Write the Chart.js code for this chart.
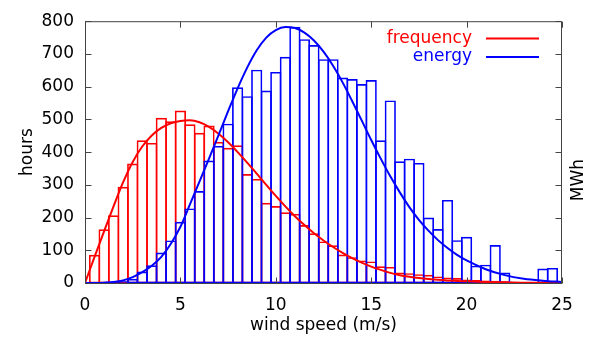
<!DOCTYPE html>
<html>
<head>
<meta charset="utf-8">
<script src="https://cdn.jsdelivr.net/npm/chart.js@4.4.1/dist/chart.umd.min.js"></script>
<style>
  html, body { margin: 0; padding: 0; background: #fff; }
  #wrap { width: 600px; height: 340px; }
</style>
</head>
<body>
<div id="wrap"><canvas id="windChart"></canvas></div>
<script>
// histogram bins (m/s, bin centres) and the two histograms
const binSpeeds = [0.5, 1, 1.5, 2, 2.5, 3, 3.5, 4, 4.5, 5, 5.5, 6, 6.5, 7, 7.5, 8, 8.5, 9, 9.5, 10,
  10.5, 11, 11.5, 12, 12.5, 13, 13.5, 14, 14.5, 15, 15.5, 16, 16.5, 17, 17.5, 18, 18.5, 19, 19.5, 20,
  20.5, 21, 21.5, 22, 22.5, 23, 23.5, 24, 24.5];
const hoursPerBin = [85, 163, 206, 293, 364, 435, 427, 504, 493, 526, 484, 458, 480, 430, 412, 420, 332, 317, 244, 234,
  215, 210, 176, 151, 126, 114, 86, 78, 68, 65, 50, 48, 31, 29, 26, 24, 19, 16, 14, 10,
  8, 7, 6, 4, 3, 2, 1, 1, 1];
const energyPerBin = [0, 0, 1, 5, 12, 34, 53, 92, 129, 186, 227, 280, 373, 418, 486, 597, 570, 651, 587, 644,
  690, 782, 744, 726, 683, 683, 627, 622, 607, 619, 435, 557, 371, 379, 366, 199, 164, 253, 130, 140,
  52, 55, 115, 31, 3, 0, 0, 43, 45];

// fitted curves
const fitSpeeds = [0, 0.5, 1, 1.5, 2, 2.5, 3, 3.5, 4, 4.5, 5, 5.5, 6, 6.5, 7, 7.5, 8, 8.5, 9, 9.5, 10,
  10.5, 11, 11.5, 12, 12.5, 13, 13.5, 14, 14.5, 15, 15.5, 16, 16.5, 17, 17.5, 18, 18.5, 19, 19.5, 20,
  21, 22, 23, 24, 25];
const frequencyFit = [0, 80, 158, 235, 308, 370, 417, 451, 474, 488, 495, 497, 491, 477, 456, 430, 400, 368, 334, 300, 266,
  234, 204, 177, 152, 130, 110, 92, 76, 62, 50, 40, 31, 24, 19, 15, 12, 10, 8, 6, 5,
  3, 2, 1, 1, 0];
const energyFit = [0, 0, 1, 3, 8, 18, 33, 53, 80, 120, 172, 240, 310, 380, 452, 525, 595, 658, 711, 750, 773,
  782, 779, 765, 741, 707, 664, 613, 556, 497, 437, 380, 326, 277, 232, 193, 160, 131, 107, 86, 69,
  42, 24, 13, 7, 3];

const xTicks = [0, 5, 10, 15, 20, 25];
const yTicks = [0, 100, 200, 300, 400, 500, 600, 700, 800];

const FONT = "'DejaVu Sans', sans-serif";
const RED = '#ff0000';
const BLUE = '#0000ff';

const toPoints = (xs, ys) => xs.map((x, i) => ({ x: x, y: ys[i] }));

// plot box is 85..562 wide, so one 0.5 m/s bin is 9.54px; +1 so neighbour borders overlap
const binPx = (600 - 85 - 38) / 25 * 0.5 + 1;

const gnuplotFrame = {
  id: 'gnuplotFrame',
  afterDatasetsDraw(chart) {
    const { ctx, chartArea: a, scales } = chart;
    const l = a.left + 0.5, r = a.right - 0.5, t = a.top + 0.5, b = a.bottom + 0.5;
    ctx.save();
    ctx.strokeStyle = '#444';
    ctx.lineWidth = 1;
    ctx.beginPath();
    xTicks.forEach(v => {
      const px = Math.round(scales.x.getPixelForValue(v)) + 0.5;
      ctx.moveTo(px, b); ctx.lineTo(px, b - 6);
      ctx.moveTo(px, t); ctx.lineTo(px, t + 6);
    });
    yTicks.forEach(v => {
      const py = Math.round(scales.y.getPixelForValue(v)) + 0.5;
      ctx.moveTo(l, py); ctx.lineTo(l + 6, py);
      ctx.moveTo(r, py); ctx.lineTo(r - 6, py);
    });
    ctx.stroke();
    ctx.strokeRect(l, t, r - l, b - t);
    ctx.restore();
  },
  afterDraw(chart) {
    const { ctx } = chart;
    ctx.save();
    ctx.font = '17px ' + FONT;
    // legend
    ctx.textAlign = 'right';
    ctx.textBaseline = 'middle';
    ctx.lineWidth = 2;
    [['frequency', RED, 38.5], ['energy', BLUE, 57]].forEach(([txt, col, y]) => {
      ctx.fillStyle = col;
      ctx.fillText(txt, 472, y);
      ctx.strokeStyle = col;
      ctx.beginPath();
      ctx.moveTo(486, y); ctx.lineTo(539, y);
      ctx.stroke();
    });
    // right axis label
    ctx.fillStyle = '#000';
    ctx.textAlign = 'center';
    ctx.translate(579, 180);
    ctx.rotate(-Math.PI / 2);
    ctx.fillText('MWh', 0, 0);
    ctx.restore();
  }
};

new Chart(document.getElementById('windChart'), {
  type: 'bar',
  data: {
    datasets: [
      {
        type: 'line',
        label: 'energy',
        data: toPoints(fitSpeeds, energyFit),
        yAxisID: 'y2',
        borderColor: BLUE,
        borderWidth: 2,
        pointRadius: 0,
        cubicInterpolationMode: 'monotone',
        order: 1
      },
      {
        type: 'line',
        label: 'frequency',
        data: toPoints(fitSpeeds, frequencyFit),
        borderColor: RED,
        borderWidth: 2,
        pointRadius: 0,
        cubicInterpolationMode: 'monotone',
        order: 2
      },
      {
        label: 'energy bins',
        data: toPoints(binSpeeds, energyPerBin),
        yAxisID: 'y2',
        backgroundColor: 'rgba(0,0,0,0)',
        borderColor: BLUE,
        borderWidth: 1,
        borderSkipped: false,
        barThickness: binPx,
        grouped: false,
        order: 3
      },
      {
        label: 'frequency bins',
        data: toPoints(binSpeeds, hoursPerBin),
        backgroundColor: 'rgba(0,0,0,0)',
        borderColor: RED,
        borderWidth: 1,
        borderSkipped: false,
        barThickness: binPx,
        grouped: false,
        order: 4
      }
    ]
  },
  options: {
    responsive: true,
    maintainAspectRatio: false,
    devicePixelRatio: 1,
    animation: false,
    layout: { padding: { top: 20, left: 0, right: 0, bottom: 0 } },
    plugins: {
      legend: { display: false },
      tooltip: { enabled: false }
    },
    scales: {
      x: {
        type: 'linear',
        min: 0,
        max: 25,
        offset: false,
        grid: { display: false, drawTicks: false },
        border: { display: false },
        ticks: { stepSize: 5, padding: 12, color: '#000', font: { family: FONT, size: 17 } },
        title: { display: true, text: 'wind speed (m/s)', color: '#000', padding: 4, font: { family: FONT, size: 17 } },
        afterFit: s => { s.height = 57; }
      },
      y: {
        min: 0,
        max: 800,
        grid: { display: false, drawTicks: false },
        border: { display: false },
        ticks: { stepSize: 100, padding: 11, color: '#000', font: { family: FONT, size: 17 } },
        title: { display: true, text: 'hours', color: '#000', padding: 17, font: { family: FONT, size: 17 } },
        afterFit: s => { s.width = 85; }
      },
      y2: {
        position: 'right',
        min: 0,
        max: 800,
        grid: { display: false, drawTicks: false },
        border: { display: false },
        ticks: { display: false, stepSize: 100 },
        afterFit: s => { s.width = 38; }
      }
    }
  },
  plugins: [gnuplotFrame]
});
</script>
</body>
</html>
